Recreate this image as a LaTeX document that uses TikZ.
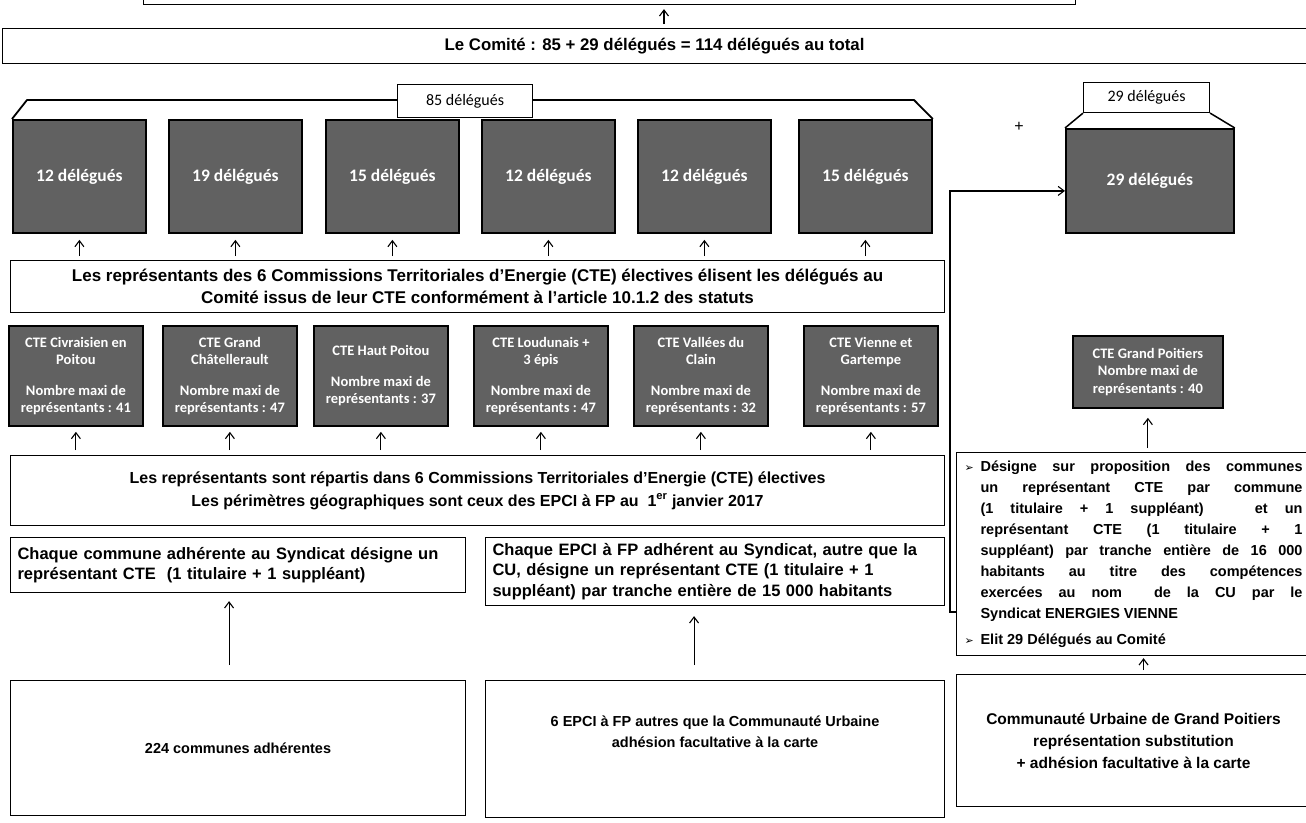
\documentclass[tikz,border=0pt]{standalone}
\usepackage{fontspec}
\setmainfont{Liberation Sans}
\newfontfamily\calib{Carlito}
\newfontfamily\djv{DejaVu Sans}
\usetikzlibrary{arrows.meta}
\newcommand\jline[1]{\makebox[322pt][s]{#1}}
\newcommand\bul{\makebox[16pt][l]{\djv\fontsize{11}{11}\selectfont ➢}}
\begin{document}
\begin{tikzpicture}[x=1pt,y=-1pt,
 wbox/.style={draw=black,line width=1.1pt,fill=white,inner sep=0pt,anchor=north west,align=center},
 gbox/.style={draw=black,line width=1.8pt,fill=black!62,text=white,inner sep=0pt,anchor=north west,align=center},
 arr/.style={line width=1.1pt,-{Straight Barb[length=6pt,width=9pt,line width=1.1pt]}},
 conn/.style={line width=1.6pt,-{Straight Barb[length=6pt,width=9pt,line width=1.1pt]}},
 big/.style={font=\bfseries\fontsize{17}{22}\selectfont},
 rfont/.style={font=\bfseries\fontsize{16}{23}\selectfont},
 mid/.style={font=\bfseries\fontsize{14.5}{20.5}\selectfont},
 midw/.style={font=\bfseries\fontsize{16.5}{20.5}\selectfont},
 gfont/.style={font=\calib\bfseries\fontsize{17.5}{20}\selectfont},
 cfont/.style={font=\calib\bfseries\fontsize{14.5}{17.5}\selectfont},
 cal/.style={font=\calib\fontsize{16}{19}\selectfont},
]
\useasboundingbox (0,0) rectangle (1306,822);

% top box (cut by the page edge)
\node[wbox,minimum width=932,minimum height=50] (top) at (143,-46) {};
% comite
\node[wbox,font=\bfseries\fontsize{16.8}{20}\selectfont,minimum width=1304,minimum height=35] (comite) at (2,28)
  {Le Comité : 85 + 29 délégués = 114 délégués au total};
\coordinate (ax) at (664,0);
\draw[arr,shorten <=4pt,shorten >=4pt] (comite.north -| ax) -- (top.south -| ax);

% row 1 gray boxes
\node[gbox,gfont,minimum width=133,minimum height=113] (g1) at (12,119) {12 délégués};
\node[gbox,gfont,minimum width=133,minimum height=113] (g2) at (168,119) {19 délégués};
\node[gbox,gfont,minimum width=133,minimum height=113] (g3) at (325,119) {15 délégués};
\node[gbox,gfont,minimum width=133,minimum height=113] (g4) at (481,119) {12 délégués};
\node[gbox,gfont,minimum width=133,minimum height=113] (g5) at (637,119) {12 délégués};
\node[gbox,gfont,minimum width=133,minimum height=113] (g6) at (798,119) {15 délégués};
\node[gbox,gfont,minimum width=168,minimum height=104] (g29) at (1065,128) {29 délégués};

% brackets
\coordinate (bl) at (27,100);
\coordinate (br) at (914,100);
\draw[line width=1.8pt,line join=round] (g1.north west) -- (bl) -- (br) -- (g6.north east);
\node[wbox,cal,minimum width=135,minimum height=33] (b85) at (397,84) {85 délégués};
\node[wbox,cal,minimum width=126,minimum height=30] (b29) at (1083,82) {29 délégués};
\draw[line width=1.5pt] (b29.south west) -- (g29.north west);
\draw[line width=1.5pt] (b29.south east) -- (g29.north east);
\node[font=\fontsize{16}{16}\selectfont] (plus) at (1019,127) {+};

% elisent box
\node[wbox,big,minimum width=934,minimum height=52] (elis) at (10,260)
  {Les représentants des 6 Commissions Territoriales d’Energie (CTE) électives élisent les délégués au\\
   Comité issus de leur CTE conformément à l’article 10.1.2 des statuts};
\foreach \i in {1,...,6}{
  \draw[arr,shorten <=4pt,shorten >=6pt] (elis.north -| g\i.south) -- (g\i.south);
}

% row 2 CTE boxes
\node[gbox,cfont,minimum width=134,minimum height=100] (c1) at (8,325)
  {CTE Civraisien en\\Poitou\\[13pt]Nombre maxi de\\représentants : 41};
\node[gbox,cfont,minimum width=134,minimum height=100] (c2) at (162,325)
  {CTE Grand\\Châtellerault\\[13pt]Nombre maxi de\\représentants : 47};
\node[gbox,cfont,minimum width=134,minimum height=100] (c3) at (313,325)
  {CTE Haut Poitou\\[13pt]Nombre maxi de\\représentants : 37};
\node[gbox,cfont,minimum width=134,minimum height=100] (c4) at (473,325)
  {CTE Loudunais +\\3 épis\\[13pt]Nombre maxi de\\représentants : 47};
\node[gbox,cfont,minimum width=134,minimum height=100] (c5) at (633,325)
  {CTE Vallées du\\Clain\\[13pt]Nombre maxi de\\représentants : 32};
\node[gbox,cfont,minimum width=134,minimum height=100] (c6) at (803,325)
  {CTE Vienne et\\Gartempe\\[13pt]Nombre maxi de\\représentants : 57};
\node[gbox,cfont,minimum width=150,minimum height=72] (gp) at (1072,335)
  {CTE Grand Poitiers\\Nombre maxi de\\représentants : 40};

% repartis box
\node[wbox,rfont,minimum width=934,minimum height=70] (rep) at (10,455)
  {Les représentants sont répartis dans 6 Commissions Territoriales d’Energie (CTE) électives\\
   Les périmètres géographiques sont ceux des EPCI à FP au\ \ 1\textsuperscript{er} janvier 2017};
\foreach \i in {1,...,6}{
  \draw[arr,shorten <=5pt,shorten >=5pt] (rep.north -| c\i.south) -- (c\i.south);
}

% lower left boxes
\node[wbox,midw,align=left,minimum width=455,minimum height=55,text width=441,inner xsep=7pt] (com) at (10,537)
  {Chaque commune adhérente au Syndicat désigne un\\représentant CTE\ \ (1 titulaire + 1 suppléant)};
\node[wbox,midw,align=left,minimum width=459,minimum height=68,text width=445,inner xsep=7pt] (epci) at (485,537)
  {Chaque EPCI à FP adhérent au Syndicat, autre que la\\CU, désigne un représentant CTE (1 titulaire + 1\\suppléant) par tranche entière de 15 000 habitants};

% right box
\node[wbox,font=\bfseries\fontsize{14.5}{21}\selectfont,align=left,minimum width=354,minimum height=203,inner xsep=3pt] (rb) at (956,452)
  {\bul\jline{Désigne sur proposition des communes}\\
   \hspace*{16pt}\jline{un représentant CTE par commune}\\
   \hspace*{16pt}\jline{(1 titulaire + 1 suppléant)\ \ \ et un}\\
   \hspace*{16pt}\jline{représentant CTE (1 titulaire + 1}\\
   \hspace*{16pt}\jline{suppléant) par tranche entière de 16 000}\\
   \hspace*{16pt}\jline{habitants au titre des compétences}\\
   \hspace*{16pt}\jline{exercées au nom\ \ de la CU par le}\\
   \hspace*{16pt}Syndicat ENERGIES VIENNE\\[5pt]
   \bul Elit 29 Délégués au Comité};
\draw[arr,shorten <=4pt,shorten >=9pt] (rb.north -| gp.south) -- (gp.south);
\draw[conn] ([yshift=-58pt]rb.west) -- ++(-6,0) |- ([yshift=-10pt]g29.west);

% bottom boxes
\node[wbox,mid,minimum width=455,minimum height=135] (b224) at (10,680) {224 communes adhérentes};
\node[wbox,mid,minimum width=459,minimum height=137] (b6) at (485,680)
  {6 EPCI à FP autres que la Communauté Urbaine\\adhésion facultative à la carte\\[14pt]\mbox{}};
\node[wbox,font=\bfseries\fontsize{15.5}{22}\selectfont,minimum width=354,minimum height=132] (cu) at (956,674)
  {Communauté Urbaine de Grand Poitiers\\représentation substitution\\+ adhésion facultative à la carte};

\draw[arr,shorten <=15pt,shorten >=8pt] ([xshift=-9pt]b224.north) -- ([xshift=-9pt]com.south);
\draw[arr,shorten <=15pt,shorten >=10pt] ([xshift=-21pt]b6.north) -- ([xshift=-21pt]epci.south);
\draw[arr,shorten <=4pt,shorten >=2pt] ([xshift=10pt]cu.north) -- ([xshift=10pt]cu.north |- rb.south);
\end{tikzpicture}
\end{document}
